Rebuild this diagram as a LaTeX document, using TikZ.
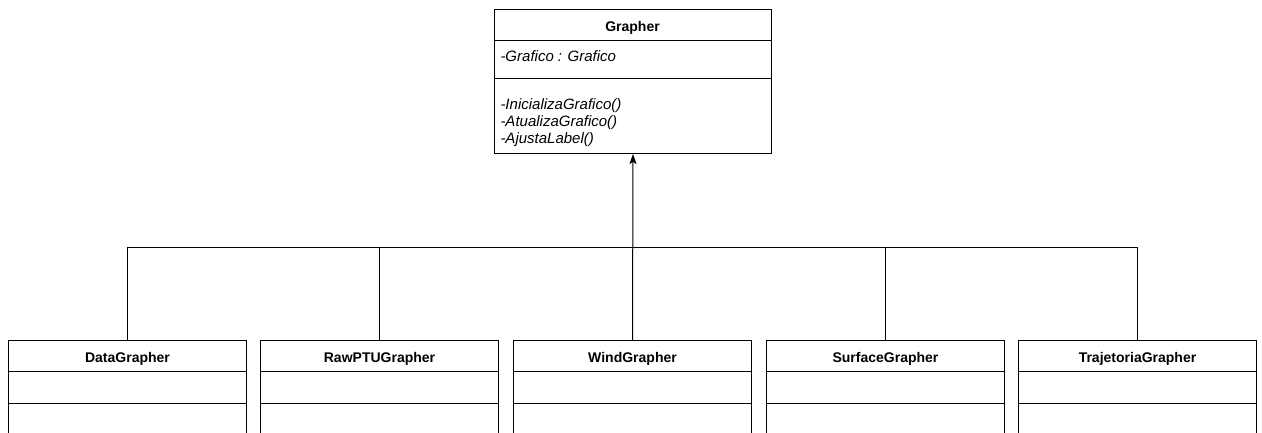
\documentclass[tikz,border=0pt]{standalone}
\usepackage{fontspec}
\setmainfont{Liberation Sans}
\usetikzlibrary{arrows.meta}
\begin{document}
\begin{tikzpicture}[x=1pt,y=-1pt,line width=1pt,
  headfont/.style={font=\fontsize{14}{17}\selectfont\bfseries},
  classhead/.style={draw,anchor=north west,inner sep=0pt,minimum width=238pt,
    minimum height=31pt,headfont,text height=16pt,text depth=3pt},
  compartment/.style={draw},
  member/.style={font=\fontsize{15}{17}\selectfont\itshape,inner sep=0pt,anchor=base west},
  inherit/.style={-{Stealth[length=10pt,width=7pt,inset=2pt]}}]
\useasboundingbox (0,0) rectangle (1262,433);
\clip (0,0) rectangle (1262,433);

% superclass
\node[draw,anchor=north west,inner sep=0pt,minimum width=277pt,minimum height=144pt] (grapher) at (494,9) {};
\draw (494,41) -- (771,41);
\draw (494,79) -- (771,79);
\node[headfont,anchor=base,inner sep=0pt] (gname) at (632.5,32) {Grapher};
\node[member] (gattr) at (500,62) {-Grafico : Grafico};
\node[member] (op1) at (500,110) {-InicializaGrafico()};
\node[member] (op2) at (500,127) {-AtualizaGrafico()};
\node[member] (op3) at (500,144) {-AjustaLabel()};

% subclasses
\foreach \x/\n/\t in {8/data/DataGrapher,260/raw/RawPTUGrapher,513/wind/WindGrapher,
                      766/surface/SurfaceGrapher,1018/traj/TrajetoriaGrapher}{
  \node[classhead] (\n) at (\x,340) {\t};
  \draw[compartment] (\x,371) rectangle ++(238,32);
  \draw[compartment] (\x,403) rectangle ++(238,40);
}

% generalisation tree
\coordinate (bus) at (632,247);
\draw (data.north) |- (traj.north |- bus) -- (traj.north);
\draw (raw.north) -- (raw.north |- bus);
\draw (surface.north) -- (surface.north |- bus);
\draw[inherit] (wind.north) -- (grapher.south);
\end{tikzpicture}
\end{document}
